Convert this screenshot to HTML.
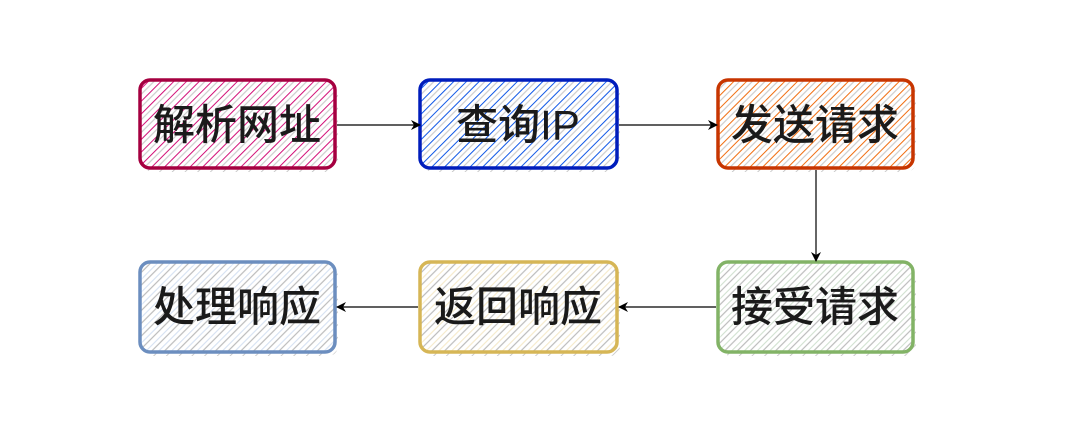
<!DOCTYPE html>
<html><head><meta charset="utf-8"><style>
body{margin:0;background:#fff}
svg text{font-family:"Liberation Sans","Noto Sans CJK SC",sans-serif;font-size:42px;font-weight:500;fill:#1a1a1a;text-anchor:middle;dominant-baseline:central}
</style></head><body>
<svg width="1080" height="430" viewBox="0 0 1080 430" xmlns="http://www.w3.org/2000/svg">
<defs>
<pattern id="sh" width="9" height="9" patternUnits="userSpaceOnUse" patternTransform="rotate(45)"><line x1="0" y1="0" x2="0" y2="9" stroke="#bbb" stroke-width="1.5"/></pattern>
<pattern id="p1" width="9" height="9" patternUnits="userSpaceOnUse" patternTransform="rotate(45)"><line x1="0" y1="0" x2="0" y2="9" stroke="#d80073" stroke-width="1.8"/><line x1="4.5" y1="0" x2="4.5" y2="9" stroke="#ccc" stroke-width="1.2"/></pattern>
<pattern id="p2" width="9" height="9" patternUnits="userSpaceOnUse" patternTransform="rotate(45)"><line x1="0" y1="0" x2="0" y2="9" stroke="#0050ef" stroke-width="1.8"/><line x1="4.5" y1="0" x2="4.5" y2="9" stroke="#ccc" stroke-width="1.2"/></pattern>
<pattern id="p3" width="9" height="9" patternUnits="userSpaceOnUse" patternTransform="rotate(45)"><line x1="0" y1="0" x2="0" y2="9" stroke="#fa6800" stroke-width="1.8"/><line x1="4.5" y1="0" x2="4.5" y2="9" stroke="#ccc" stroke-width="1.2"/></pattern>
<pattern id="p4" width="9" height="9" patternUnits="userSpaceOnUse" patternTransform="rotate(45)"><line x1="0" y1="0" x2="0" y2="9" stroke="#d5e8d4" stroke-width="1.8"/><line x1="4.5" y1="0" x2="4.5" y2="9" stroke="#bbb" stroke-width="1.2"/></pattern>
<pattern id="p5" width="9" height="9" patternUnits="userSpaceOnUse" patternTransform="rotate(45)"><line x1="0" y1="0" x2="0" y2="9" stroke="#fff2cc" stroke-width="1.8"/><line x1="4.5" y1="0" x2="4.5" y2="9" stroke="#bbb" stroke-width="1.2"/></pattern>
<pattern id="p6" width="9" height="9" patternUnits="userSpaceOnUse" patternTransform="rotate(45)"><line x1="0" y1="0" x2="0" y2="9" stroke="#dae8fc" stroke-width="1.8"/><line x1="4.5" y1="0" x2="4.5" y2="9" stroke="#bbb" stroke-width="1.2"/></pattern>
<marker id="a" markerWidth="10" markerHeight="10" refX="9" refY="5" orient="auto" markerUnits="userSpaceOnUse"><path d="M0,0 L10,5 L0,10 L3,5 Z" fill="#000"/></marker>
</defs>
<g>
<rect x="143" y="84" width="195" height="88" rx="10" fill="url(#sh)"/>
<rect x="140" y="80" width="195" height="88" rx="10" fill="url(#p1)" stroke="#a50040" stroke-width="3.5"/>
<text x="237" y="125">解析网址</text>
<rect x="423" y="84" width="197" height="88" rx="10" fill="url(#sh)"/>
<rect x="420" y="80" width="197" height="88" rx="10" fill="url(#p2)" stroke="#001dbc" stroke-width="3.5"/>
<text x="518" y="125">查询IP</text>
<rect x="721" y="84" width="195" height="88" rx="10" fill="url(#sh)"/>
<rect x="718" y="80" width="195" height="88" rx="10" fill="url(#p3)" stroke="#c73500" stroke-width="3.5"/>
<text x="815" y="125">发送请求</text>
<rect x="721" y="266" width="195" height="90" rx="10" fill="url(#sh)"/>
<rect x="718" y="262" width="195" height="90" rx="10" fill="url(#p4)" stroke="#82b366" stroke-width="3.5"/>
<text x="815" y="307">接受请求</text>
<rect x="423" y="266" width="197" height="90" rx="10" fill="url(#sh)"/>
<rect x="420" y="262" width="197" height="90" rx="10" fill="url(#p5)" stroke="#d6b656" stroke-width="3.5"/>
<text x="518" y="307">返回响应</text>
<rect x="143" y="266" width="195" height="90" rx="10" fill="url(#sh)"/>
<rect x="140" y="262" width="195" height="90" rx="10" fill="url(#p6)" stroke="#6c8ebf" stroke-width="3.5"/>
<text x="237" y="307">处理响应</text>
</g>
<g stroke="#000" stroke-width="1.2" fill="none">
<line x1="337" y1="125" x2="420" y2="125" marker-end="url(#a)"/>
<line x1="619" y1="125" x2="717" y2="125" marker-end="url(#a)"/>
<line x1="816" y1="170" x2="816" y2="261" marker-end="url(#a)"/>
<line x1="716" y1="307" x2="619" y2="307" marker-end="url(#a)"/>
<line x1="418" y1="307" x2="337" y2="307" marker-end="url(#a)"/>
</g>
</svg>
</body></html>
